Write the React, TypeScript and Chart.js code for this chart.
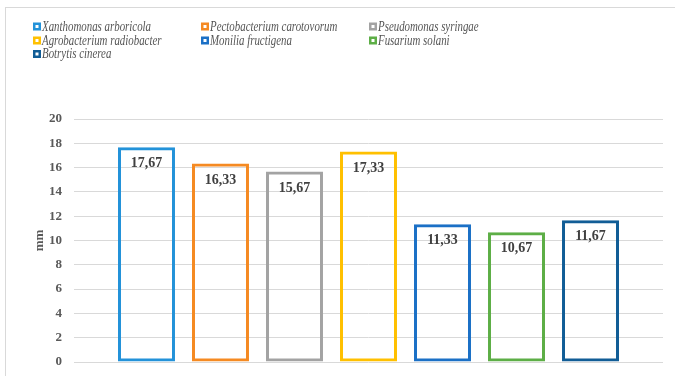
import React, { useEffect, useRef } from "react";
import { Chart, registerables } from "chart.js";

Chart.register(...registerables);

// Inhibition zones per organism (mm)
const organisms = [
  "Xanthomonas arboricola",
  "Pectobacterium carotovorum",
  "Pseudomonas syringae",
  "Agrobacterium radiobacter",
  "Monilia fructigena",
  "Fusarium solani",
  "Botrytis cinerea",
];
const zoneValues = [17.67, 16.33, 15.67, 17.33, 11.33, 10.67, 11.67];
const seriesColors = [
  "#2392d9",
  "#f58a22",
  "#a3a3a3",
  "#ffc000",
  "#1b70c6",
  "#5dae46",
  "#115d96",
];
const yTicks = [0, 2, 4, 6, 8, 10, 12, 14, 16, 18, 20];

const SERIF = "'Liberation Serif', 'Times New Roman', serif";

const fmt = (v: number) => v.toFixed(2).replace(".", ",");

const decorPlugin = {
  id: "decor",
  beforeDraw(chart: any) {
    const ctx = chart.ctx as CanvasRenderingContext2D;
    ctx.save();
    ctx.fillStyle = "#ffffff";
    ctx.fillRect(0, 0, chart.width, chart.height);
    ctx.strokeStyle = "#d9d9d9";
    ctx.lineWidth = 1;
    ctx.strokeRect(5.5, 7.5, chart.width + 20, chart.height + 20);
    ctx.restore();
  },
  afterDraw(chart: any) {
    const ctx = chart.ctx as CanvasRenderingContext2D;
    const area = chart.chartArea;
    ctx.save();

    // legend in three columns, narrow italic lettering
    const colX = [33, 201, 369];
    const rowY = [26.5, 40.5, 54];
    ctx.font = `italic 14.5px ${SERIF}`;
    ctx.textBaseline = "middle";
    ctx.textAlign = "left";
    organisms.forEach((name, i) => {
      const x = colX[i % 3];
      const y = rowY[Math.floor(i / 3)];
      ctx.fillStyle = seriesColors[i];
      ctx.fillRect(x, y - 4, 8, 8);
      ctx.fillStyle = "#ffffff";
      ctx.fillRect(x + 2.5, y - 1.5, 3, 3);
      ctx.fillStyle = "#555555";
      ctx.save();
      ctx.translate(x + 9, y + 0.5);
      ctx.scale(0.75, 1);
      ctx.fillText(name, 0, 0);
      ctx.restore();
    });

    // y-axis title
    ctx.translate(40, (area.top + area.bottom) / 2);
    ctx.rotate(-Math.PI / 2);
    ctx.textAlign = "center";
    ctx.font = `bold 13px ${SERIF}`;
    ctx.fillStyle = "#595959";
    ctx.fillText("mm", 0, 0);
    ctx.setTransform(1, 0, 0, 1, 0, 0);

    // value labels inside bars
    ctx.font = `bold 14px ${SERIF}`;
    ctx.fillStyle = "#404040";
    ctx.textAlign = "center";
    ctx.textBaseline = "middle";
    chart.data.datasets.forEach((ds: any, i: number) => {
      const meta = chart.getDatasetMeta(i);
      const bar = meta.data[0];
      if (!bar) return;
      ctx.fillText(fmt(ds.data[0]), bar.x, bar.y + 16.5);
    });
    ctx.restore();
  },
};

export default function App() {
  const canvasRef = useRef<HTMLCanvasElement | null>(null);

  useEffect(() => {
    if (!canvasRef.current) return;
    const chart = new Chart(canvasRef.current, {
      type: "bar",
      data: {
        labels: [""],
        datasets: organisms.map((name, i) => ({
          label: name,
          data: [zoneValues[i]],
          backgroundColor: "rgba(255,255,255,0)",
          borderColor: seriesColors[i],
          borderWidth: 3,
          borderSkipped: false,
          categoryPercentage: 0.8795,
          barPercentage: 0.77,
        })),
      },
      options: {
        animation: false,
        responsive: false,
        maintainAspectRatio: false,
        layout: { padding: { top: 119, bottom: 14, left: 0, right: 12 } },
        plugins: {
          legend: { display: false },
          tooltip: { enabled: false },
        },
        scales: {
          x: { display: false },
          y: {
            min: 0,
            max: 20,
            afterFit: (scale: any) => {
              scale.width = 74;
              scale.paddingTop = 0;
              scale.paddingBottom = 0;
            },
            afterBuildTicks: (scale: any) => {
              scale.ticks = yTicks.map((v) => ({ value: v }));
            },
            border: { display: false },
            grid: { color: "#d9d9d9", lineWidth: 1, drawTicks: false },
            ticks: {
              padding: 12,
              color: "#595959",
              font: { family: SERIF, size: 13, weight: "bold" },
            },
          },
        },
      },
      plugins: [decorPlugin],
    });
    return () => chart.destroy();
  }, []);

  return (
    <div style={{ position: "fixed", left: 0, top: 0, width: 675, height: 376 }}>
      <canvas ref={canvasRef} width={675} height={376} />
    </div>
  );
}
